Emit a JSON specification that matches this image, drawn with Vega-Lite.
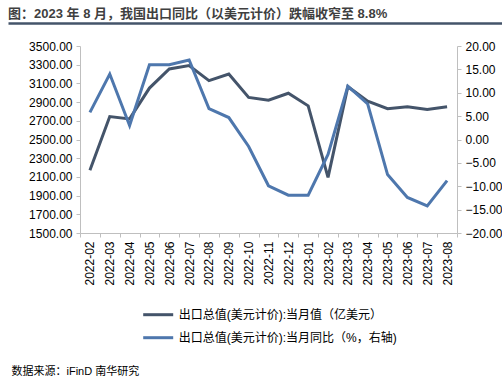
{
  "$schema": "https://vega.github.io/schema/vega-lite/v6.json",
  "autosize": {"type": "none"},
  "padding": {"left": 8, "top": 46, "right": 0, "bottom": 145},
  "width": 494,
  "height": 187,
  "background": "white",
  "title": {"text": "图：2023 年 8 月，我国出口同比（以美元计价）跌幅收窄至 8.8%", "anchor": "start", "frame": "group", "fontSize": 13, "fontWeight": "bold", "color": "#3F3F3F", "offset": 2, "font": "Liberation Sans, Noto Sans CJK SC"},
  "config": {
    "font": "Liberation Sans, Noto Sans CJK SC",
    "view": {"stroke": null},
    "axis": {"grid": false, "domainColor": "#BFBFBF", "tickColor": "#BFBFBF", "tickSize": 4, "labelPadding": 4, "labelColor": "#000000", "labelFontSize": 12, "labelFont": "Liberation Sans, Noto Sans CJK SC", "title": null}
  },
  "data": {"values": [
    {"month": "2022-02", "value": 2170, "yoy": 5.8},
    {"month": "2022-03", "value": 2745, "yoy": 14.0},
    {"month": "2022-04", "value": 2720, "yoy": 3.0},
    {"month": "2022-05", "value": 3050, "yoy": 16.0},
    {"month": "2022-06", "value": 3255, "yoy": 16.0},
    {"month": "2022-07", "value": 3290, "yoy": 17.0},
    {"month": "2022-08", "value": 3130, "yoy": 6.6},
    {"month": "2022-09", "value": 3200, "yoy": 4.7},
    {"month": "2022-10", "value": 2950, "yoy": -1.5},
    {"month": "2022-11", "value": 2920, "yoy": -9.9},
    {"month": "2022-12", "value": 2995, "yoy": -11.9},
    {"month": "2023-01", "value": 2860, "yoy": -11.9},
    {"month": "2023-02", "value": 2095, "yoy": -3.2},
    {"month": "2023-03", "value": 3065, "yoy": 11.4},
    {"month": "2023-04", "value": 2910, "yoy": 7.6},
    {"month": "2023-05", "value": 2830, "yoy": -7.5},
    {"month": "2023-06", "value": 2850, "yoy": -12.4},
    {"month": "2023-07", "value": 2820, "yoy": -14.2},
    {"month": "2023-08", "value": 2850, "yoy": -8.8}
  ]},
  "layer": [
    {
      "encoding": {
        "x": {"field": "month", "type": "ordinal", "scale": {"type": "band", "range": [72, 449], "paddingInner": 0, "paddingOuter": 0},
          "axis": {"labelAngle": -90, "tickBand": "extent", "labelPadding": 4,
            "title": "数据来源：iFinD 南华研究", "titleX": 3, "titleY": 138, "titleAlign": "left", "titleBaseline": "middle", "titleAngle": 0, "titleFontSize": 11, "titleFontWeight": "normal", "titleColor": "#000000", "titleFont": "Liberation Sans, Noto Sans CJK SC"}}
      },
      "layer": [
        {
          "mark": {"type": "line", "strokeWidth": 3},
          "encoding": {
            "y": {"field": "value", "type": "quantitative", "scale": {"domain": [1500, 3500], "nice": false, "zero": false}, "axis": {"orient": "left", "offset": -72, "values": [1500, 1700, 1900, 2100, 2300, 2500, 2700, 2900, 3100, 3300, 3500], "format": ".2f"}},
            "color": {"datum": "出口总值(美元计价):当月值（亿美元）", "type": "nominal",
              "scale": {"domain": ["出口总值(美元计价):当月值（亿美元）", "出口总值(美元计价):当月同比（%，右轴)"], "range": ["#44546A", "#4E77AD"]},
              "legend": {"orient": "none", "legendX": 133.7, "legendY": 252.2, "direction": "vertical", "title": null, "symbolType": "stroke", "symbolSize": 900, "symbolStrokeWidth": 3, "labelFontSize": 12, "labelFont": "Liberation Sans, Noto Sans CJK SC", "labelColor": "#000000", "labelOffset": 4, "labelLimit": 400, "padding": 0, "rowPadding": -13.3}}
          }
        },
        {
          "mark": {"type": "line", "strokeWidth": 3},
          "encoding": {
            "y": {"field": "yoy", "type": "quantitative", "scale": {"domain": [-20, 20], "nice": false, "zero": false}, "axis": {"orient": "right", "offset": -45, "values": [-20, -15, -10, -5, 0, 5, 10, 15, 20], "format": ".2f"}},
            "color": {"datum": "出口总值(美元计价):当月同比（%，右轴)", "type": "nominal"}
          }
        }
      ],
      "resolve": {"scale": {"y": "independent"}}
    },
    {
      "mark": {"type": "point", "opacity": 0},
      "encoding": {
        "x": {"field": "month", "type": "ordinal", "scale": {"type": "band", "paddingInner": 0, "paddingOuter": 0},
          "axis": {"orient": "top", "offset": 23, "labels": false, "ticks": false, "domainColor": "#44546A", "domainWidth": 2.5, "title": null}}
      }
    }
  ],
  "resolve": {"scale": {"x": "independent", "y": "independent"}}
}
